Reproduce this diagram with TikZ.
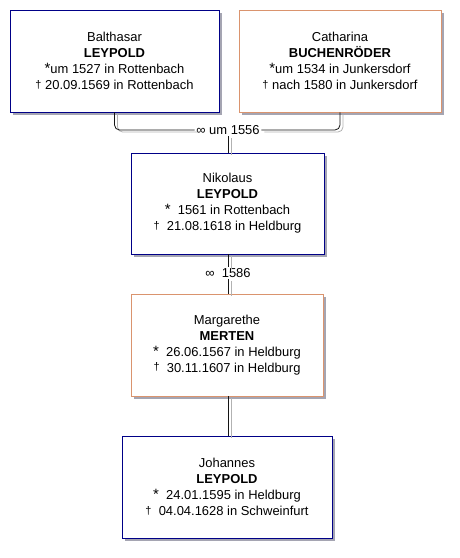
\documentclass[tikz,border=0pt]{standalone}
\usepackage{fontspec}
\setmainfont{Liberation Sans}
\usetikzlibrary{positioning,shadows}
\definecolor{pmale}{RGB}{0,0,135}
\definecolor{pfemale}{RGB}{218,148,110}
\definecolor{pshade}{RGB}{165,165,178}
\definecolor{plink}{RGB}{20,20,20}
\newcommand{\bornmark}{{\fontsize{15}{15}\selectfont *}}
\newcommand{\diedmark}{{\fontsize{11}{11}\selectfont\raisebox{1.5bp}{†}}}
\newcommand{\wedmark}{{\fontsize{13}{13}\selectfont ∞}}
\tikzset{
  person/.style={
    draw, line width=0.9bp, fill=white, align=center,
    font=\fontsize{13}{16}\selectfont, minimum height=102bp, inner sep=0pt,
    drop shadow={shadow xshift=3bp, shadow yshift=-3bp, fill=pshade, opacity=1}
  },
  male/.style={person, draw=pmale},
  female/.style={person, draw=pfemale},
  wed/.style={font=\fontsize{13}{16}\selectfont, inner sep=1.5bp, fill=white},
  link/.style={
    draw=plink, line width=0.8bp,
    preaction={draw=gray!60, line width=0.8bp, transform canvas={xshift=3bp, yshift=-2bp}}
  }
}
\begin{document}
\begin{tikzpicture}[x=1bp,y=1bp]
  \useasboundingbox (0,0) rectangle (460,-558);
  % parents
  \node[male, minimum width=209bp] (bal) at (114.5,-61)
    {Balthasar\\ \textbf{LEYPOLD}\\ \bornmark um 1527 in Rottenbach\\ \diedmark\ 20.09.1569 in Rottenbach};
  \node[female, minimum width=202bp] (cat) at (340,-61)
    {Catharina\\ \textbf{BUCHENRÖDER}\\ \bornmark um 1534 in Junkersdorf\\ \diedmark\ nach 1580 in Junkersdorf};
  \node[wed] (wed1) at (228,-130) {\wedmark\ um 1556};
  \draw[link, rounded corners=5bp] (bal.south) |- (wed1.west);
  \draw[link, rounded corners=5bp] (cat.south) |- (wed1.east);
  % son and his wife
  \node[male, minimum width=193bp, minimum height=101bp] (nik) at (227.5,-203.5)
    {Nikolaus\\ \textbf{LEYPOLD}\\ \bornmark\ \ 1561 in Rottenbach\\ \diedmark\ \ 21.08.1618 in Heldburg};
  \draw[link] (wed1.south) -- (wed1.south |- nik.north);
  \node[wed] (wed2) at (228,-273) {\wedmark\ \ 1586};
  \node[female, minimum width=192bp] (mar) at (227,-345)
    {Margarethe\\ \textbf{MERTEN}\\ \bornmark\ \ 26.06.1567 in Heldburg\\ \diedmark\ \ 30.11.1607 in Heldburg};
  \draw[link] (nik.south -| wed2.north) -- (wed2.north);
  \draw[link] (wed2.south) -- (wed2.south |- mar.north);
  % grandson
  \node[male, minimum width=210bp] (joh) at (227,-487)
    {Johannes\\ \textbf{LEYPOLD}\\ \bornmark\ \ 24.01.1595 in Heldburg\\ \diedmark\ \ 04.04.1628 in Schweinfurt};
  \draw[link] (mar.south -| wed2.south) -- (joh.north -| wed2.south);
\end{tikzpicture}
\end{document}
